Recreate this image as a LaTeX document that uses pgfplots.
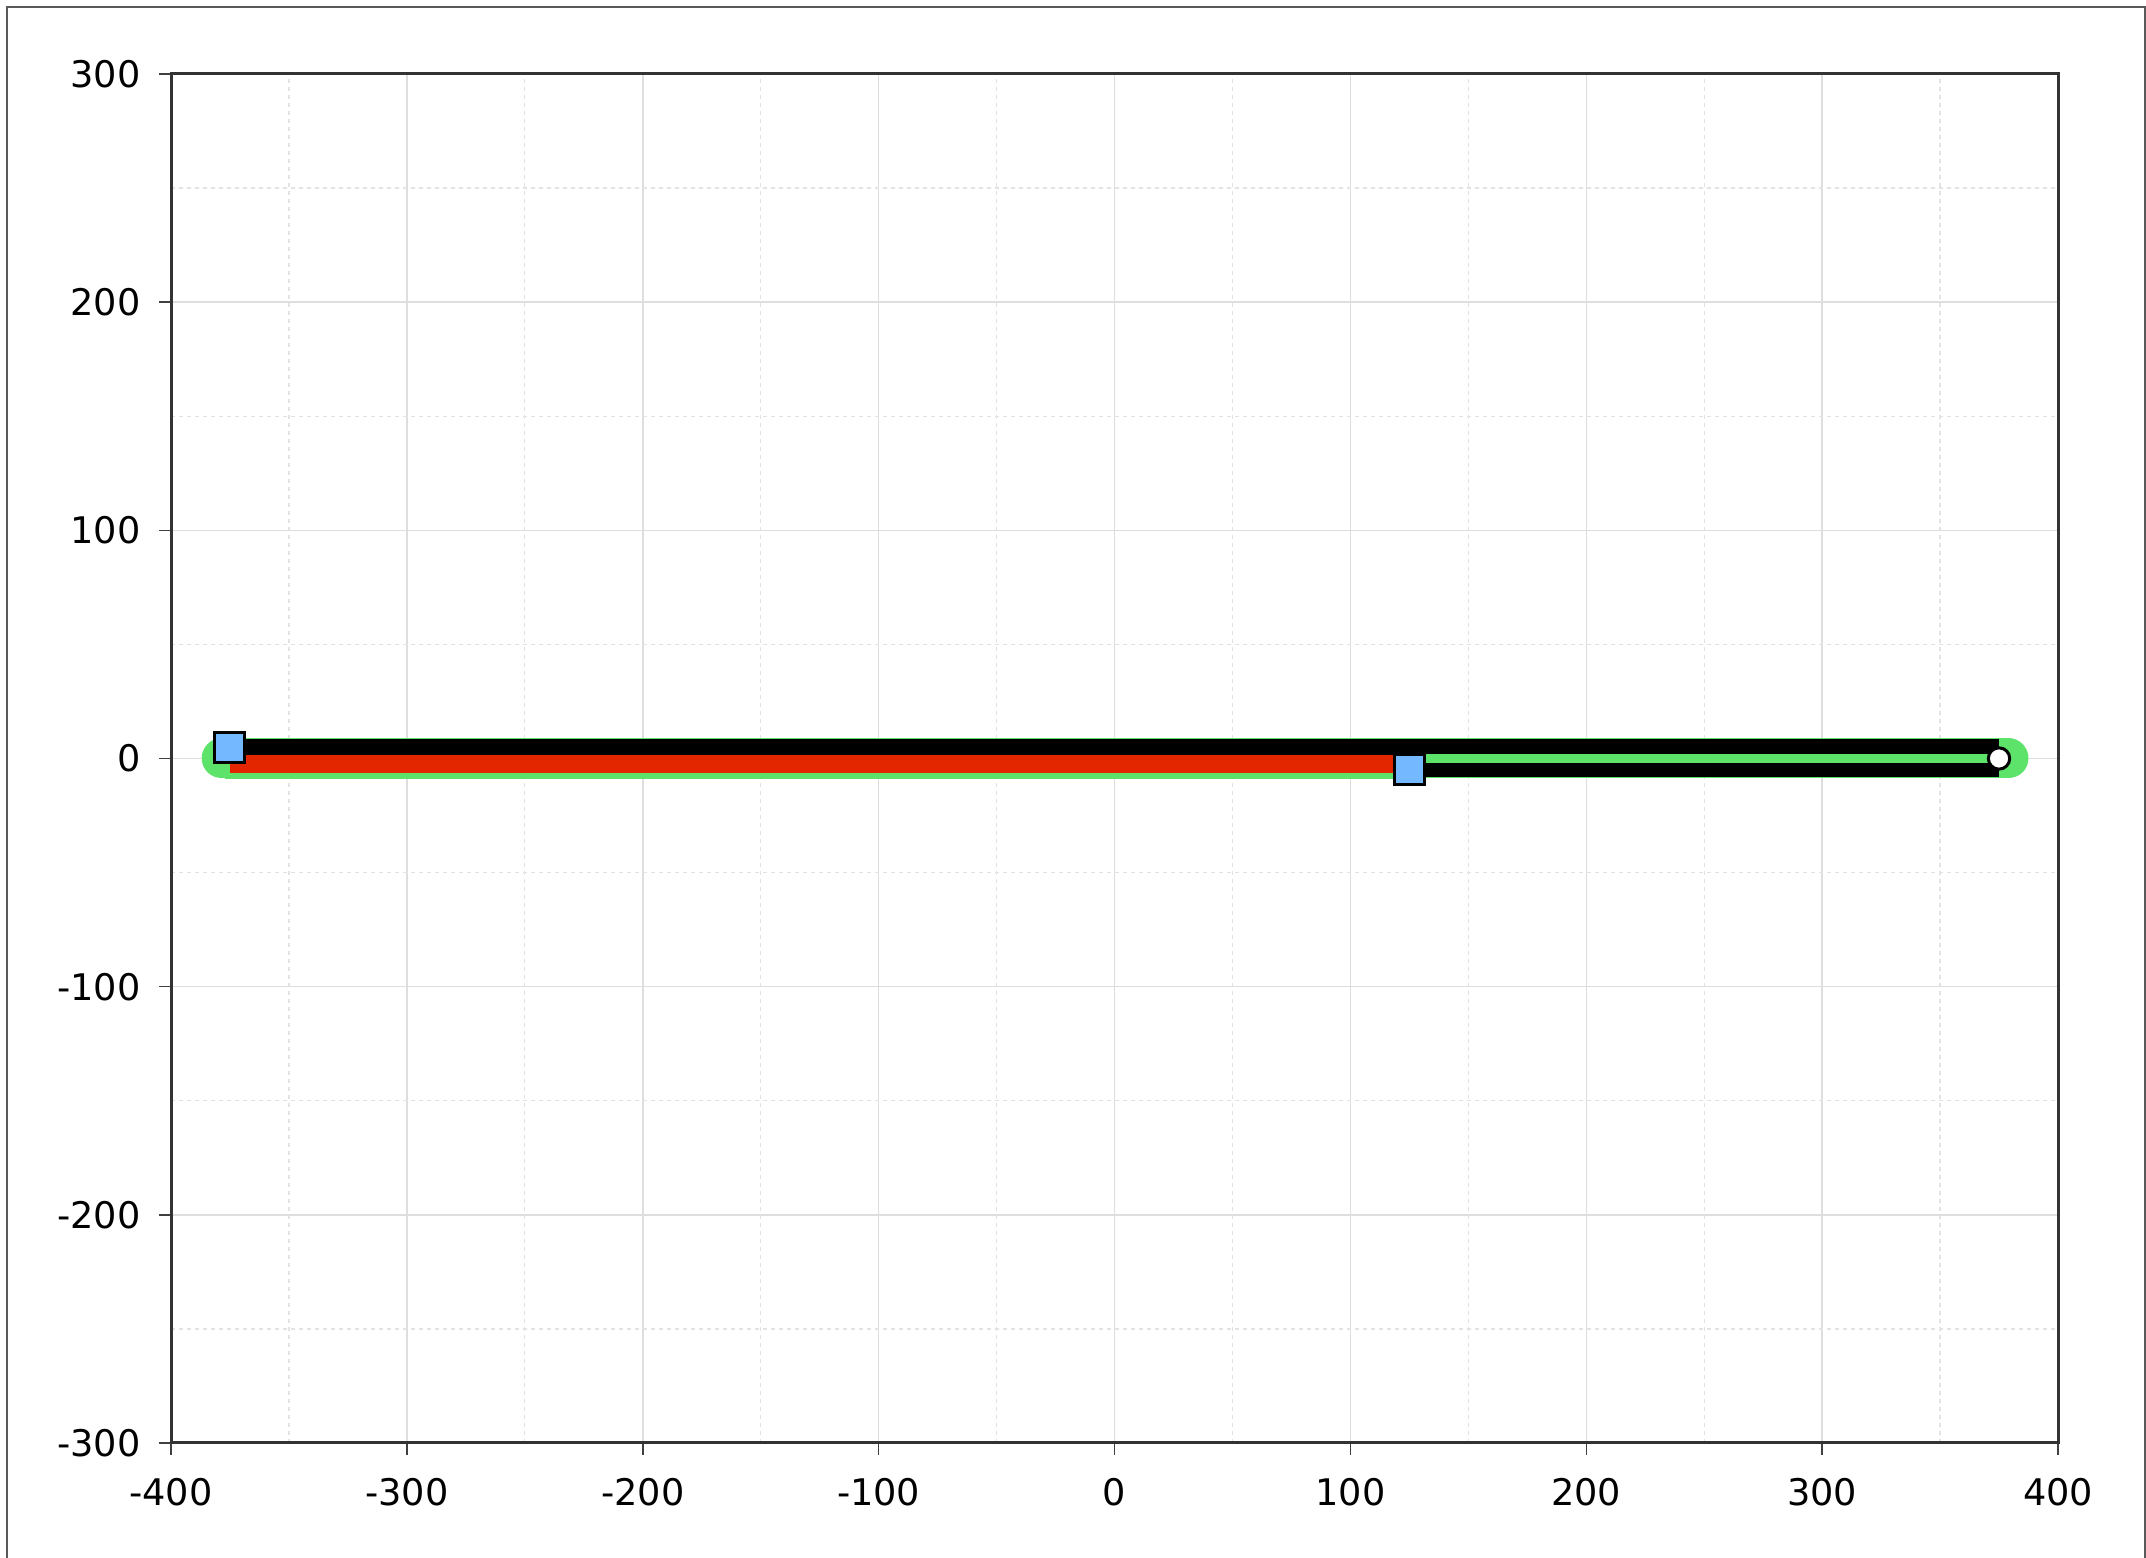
\documentclass[border=0pt]{standalone}
\usepackage{pgfplots}
\pgfplotsset{compat=1.18}
\usepackage{fontspec}
\setmainfont{DejaVu Sans}
\definecolor{lgreen}{HTML}{5DE36A}
\definecolor{lred}{HTML}{E32600}
\definecolor{lblue}{HTML}{74B9FF}
\begin{document}
\begin{tikzpicture}
\useasboundingbox (-51.3pt,-34.5pt) rectangle (592.5pt,432.9pt);
\draw[color=black!65, line width=0.6pt] (-49.2pt,-40pt) -- (-49.2pt,430.8pt) -- (592.2pt,430.8pt) -- (592.2pt,-40pt);
\begin{axis}[
  at={(0pt,0pt)}, anchor=south west,
  scale only axis, width=566.1pt, height=410.7pt,
  xmin=-400, xmax=400, ymin=-300, ymax=300,
  xtick distance=100, ytick distance=100,
  minor tick num=1,
  grid=both,
  major grid style={color=black!13, line width=0.45pt},
  minor grid style={color=black!11, dash pattern=on 1.2pt off 1.2pt, line width=0.4pt},
  axis line style={color=black!80, line width=0.9pt},
  tick align=outside, major tick length=3.5pt, minor tick length=0pt,
  tick style={color=black!75, line width=0.45pt},
  tick pos=left,
  ticklabel style={font=\fontsize{11}{13}\selectfont, color=black},
  xticklabel style={yshift=-3.6pt},
  yticklabel style={xshift=-2.1pt},
  /pgf/number format/assume math mode=true,
  /pgf/number format/1000 sep={},
]
\addplot[color=lgreen, line width=12pt, line cap=round] coordinates {(-378.5,0) (379,0)};
\addplot[color=black, line width=11.4pt] coordinates {(-375,0) (375,0)};
\addplot[color=lgreen, line width=1.8pt] coordinates {(-377,-7.6) (122,-7.6)};
\addplot[color=lred, line width=5.4pt] coordinates {(-375,-2.4) (122,-2.4)};
\addplot[color=lgreen, line width=2.7pt] coordinates {(125,0) (375,0)};
\addplot[only marks, mark=square*, mark size=4.5pt, mark options={fill=lblue, draw=black, line width=0.9pt}] coordinates {(-375,5) (125,-5)};
\addplot[only marks, mark=*, mark size=3.2pt, mark options={fill=white, draw=black, line width=0.9pt}] coordinates {(375,0)};
\end{axis}
\end{tikzpicture}
\end{document}
